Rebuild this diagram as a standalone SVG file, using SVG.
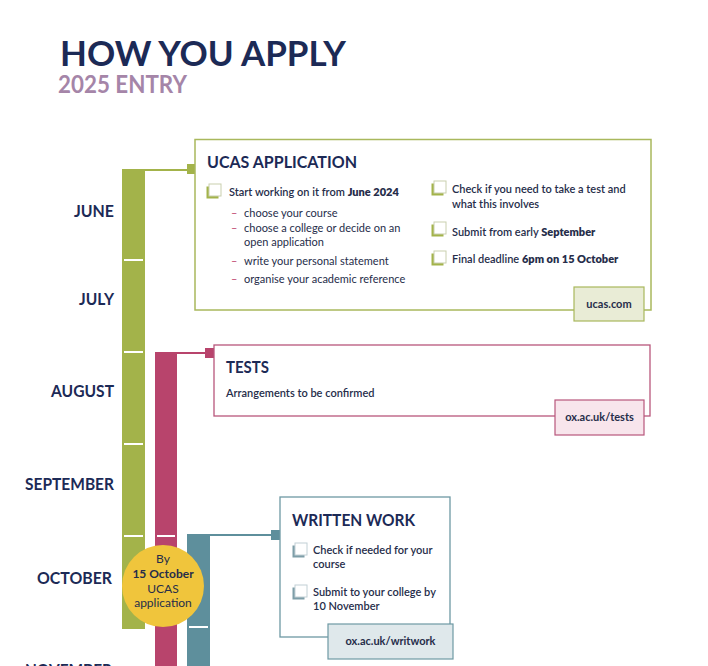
<svg xmlns="http://www.w3.org/2000/svg" width="708" height="666" viewBox="0 0 708 666">
<style>
.head{font-family:Lato,"Open Sans",sans-serif;font-weight:700;fill:#1c2a56}
.month{font-family:Lato,"Open Sans",sans-serif;font-weight:700;font-size:17.5px;fill:#1c2a56;text-anchor:end}
.body{font-family:Lato,"Noto Sans",sans-serif;font-size:11px;fill:#262d4a}
.sb{font-weight:600}
.b{font-weight:800}
.dash{font-family:Lato,sans-serif;font-size:11px;fill:#c0466e}
.tabt{font-family:Lato,sans-serif;font-size:11px;font-weight:700;fill:#262d4a;text-anchor:middle}
.tick{stroke:#ffffff;stroke-width:2}
</style>
<defs>
<g id="cbG"><rect x="-2.5" y="2.5" width="12" height="12" fill="#a3b34a"/><rect x="0" y="0" width="12" height="12" fill="#fff" stroke="#c9cfae" stroke-width="1"/></g>
<g id="cbT"><rect x="-2.5" y="2.5" width="12" height="12" fill="#7e9ea8"/><rect x="0" y="0" width="12" height="12" fill="#fff" stroke="#c2d0d5" stroke-width="1"/></g>
</defs>
<rect width="708" height="666" fill="#ffffff"/>

<g id="title">
<text class="head" x="60" y="66" font-size="35" textLength="286" lengthAdjust="spacingAndGlyphs">HOW YOU APPLY</text>
<text x="58" y="93" font-family="Lato,'Open Sans',sans-serif" font-weight="700" font-size="25" fill="#a585a8" textLength="129" lengthAdjust="spacingAndGlyphs">2025 ENTRY</text>
</g>

<g id="months">
<text class="month" x="114" y="217" textLength="40" lengthAdjust="spacingAndGlyphs">JUNE</text>
<text class="month" x="114" y="305" textLength="35" lengthAdjust="spacingAndGlyphs">JULY</text>
<text class="month" x="114" y="397" textLength="63" lengthAdjust="spacingAndGlyphs">AUGUST</text>
<text class="month" x="114" y="490" textLength="89" lengthAdjust="spacingAndGlyphs">SEPTEMBER</text>
<text class="month" x="112" y="584" textLength="75" lengthAdjust="spacingAndGlyphs">OCTOBER</text>
<text class="month" x="112" y="676" textLength="87" lengthAdjust="spacingAndGlyphs">NOVEMBER</text>
</g>

<g id="timeline-bars">
<rect x="122" y="169" width="23" height="460" fill="#a3b34a"/>
<line class="tick" x1="124" y1="260" x2="143" y2="260"/>
<line class="tick" x1="124" y1="352" x2="143" y2="352"/>
<line class="tick" x1="124" y1="444" x2="143" y2="444"/>
<line class="tick" x1="124" y1="536" x2="143" y2="536"/>
<rect x="155" y="352" width="22" height="314" fill="#b8446c"/>
<line class="tick" x1="157" y1="536" x2="175" y2="536"/>
<rect x="187" y="534" width="23" height="132" fill="#5e8f9c"/>
<line class="tick" x1="189" y1="627" x2="208" y2="627"/>
</g>

<g id="connectors">
<line x1="144" y1="170" x2="189" y2="170" stroke="#a3b34a" stroke-width="2"/>
<rect x="187" y="164" width="10" height="10" fill="#a3b34a"/>
<line x1="176" y1="353" x2="206" y2="353" stroke="#b8446c" stroke-width="2"/>
<rect x="205" y="348" width="9" height="10" fill="#b8446c"/>
<line x1="209" y1="535" x2="272" y2="535" stroke="#5e8f9c" stroke-width="2"/>
<rect x="271" y="530" width="9" height="10" fill="#5e8f9c"/>
</g>

<g id="ucas-application">
<rect x="195" y="139.5" width="456" height="170.5" fill="#fff" stroke="#a9b85c" stroke-width="1.5"/>
<text class="head" x="207" y="168" font-size="17.5" textLength="150" lengthAdjust="spacingAndGlyphs">UCAS APPLICATION</text>
<use href="#cbG" x="209" y="184"/>
<text class="body sb" x="229" y="196">Start working on it from <tspan class="b">June 2024</tspan></text>
<text class="dash" x="231" y="217">–</text><text class="body" x="244" y="217">choose your course</text>
<text class="dash" x="231" y="232">–</text><text class="body" x="244" y="232">choose a college or decide on an</text>
<text class="body" x="244" y="246">open application</text>
<text class="dash" x="231" y="265">–</text><text class="body" x="244" y="265">write your personal statement</text>
<text class="dash" x="231" y="283">–</text><text class="body" x="244" y="283">organise your academic reference</text>
<use href="#cbG" x="434" y="181"/>
<text class="body sb" x="452" y="193">Check if you need to take a test and</text>
<text class="body sb" x="452" y="208">what this involves</text>
<use href="#cbG" x="434" y="222"/>
<text class="body sb" x="452" y="236">Submit from early <tspan class="b">September</tspan></text>
<use href="#cbG" x="434" y="251"/>
<text class="body sb" x="452" y="263">Final deadline <tspan class="b">6pm on 15 October</tspan></text>
<rect x="574" y="287" width="70" height="34" fill="#e9ecd6" stroke="#a9b85c" stroke-width="1.2"/>
<text class="tabt" x="609" y="308">ucas.com</text>
</g>

<g id="tests">
<rect x="214" y="345" width="436" height="71" fill="#fff" stroke="#b8567c" stroke-width="1.3"/>
<text class="head" x="226" y="373" font-size="17.5" textLength="43" lengthAdjust="spacingAndGlyphs">TESTS</text>
<text class="body sb" x="226" y="397">Arrangements to be confirmed</text>
<rect x="555" y="400" width="89" height="35" fill="#f8e5ec" stroke="#b8567c" stroke-width="1.2"/>
<text class="tabt" x="599.5" y="421">ox.ac.uk/tests</text>
</g>

<g id="written-work">
<rect x="280" y="497" width="170" height="140" fill="#fff" stroke="#6e99a4" stroke-width="1.3"/>
<text class="head" x="292" y="526" font-size="17.5" textLength="123" lengthAdjust="spacingAndGlyphs">WRITTEN WORK</text>
<use href="#cbT" x="295" y="543"/>
<text class="body sb" x="313" y="554">Check if needed for your</text>
<text class="body sb" x="313" y="568">course</text>
<use href="#cbT" x="295" y="585"/>
<text class="body sb" x="313" y="596">Submit to your college by</text>
<text class="body sb" x="313" y="610">10 November</text>
<rect x="328" y="624" width="125" height="35" fill="#dfe8eb" stroke="#6e99a4" stroke-width="1.2"/>
<text class="tabt" x="390.5" y="645">ox.ac.uk/writwork</text>
</g>

<g id="deadline-circle">
<circle cx="163" cy="586" r="41" fill="#f0c53c"/>
<text x="163" y="563" font-family="Lato,sans-serif" font-size="12" fill="#262d4a" text-anchor="middle">By</text>
<text x="163" y="578" font-family="Lato,sans-serif" font-size="12" font-weight="700" fill="#262d4a" text-anchor="middle">15 October</text>
<text x="163" y="593" font-family="Lato,sans-serif" font-size="12" fill="#262d4a" text-anchor="middle">UCAS</text>
<text x="163" y="607" font-family="Lato,sans-serif" font-size="12" fill="#262d4a" text-anchor="middle">application</text>
</g>
</svg>
